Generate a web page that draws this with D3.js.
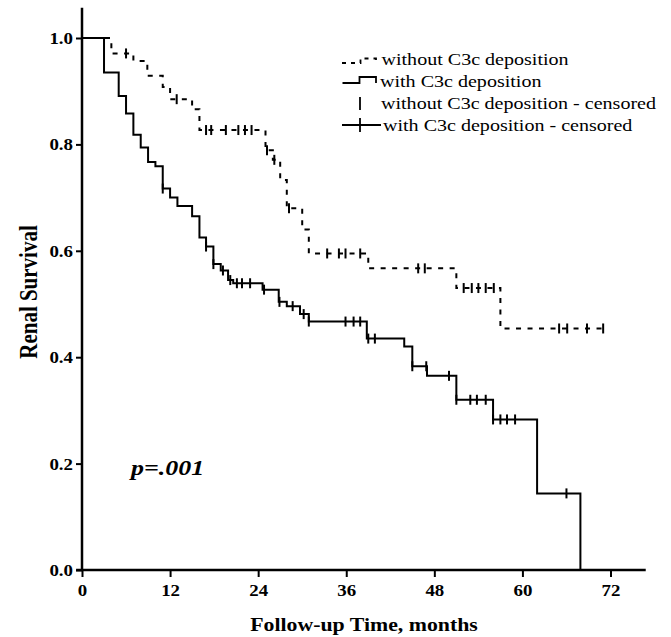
<!DOCTYPE html>
<html><head><meta charset="utf-8">
<script src="https://cdn.jsdelivr.net/npm/d3@7"></script>
<style>body{margin:0;background:#fff}svg{display:block}</style>
</head><body>
<svg id="chart" width="671" height="637"></svg>
<script>
// ---- data (months, survival) ----
const withTimes = [3, 5, 6, 7, 8, 9, 10, 11, 12, 13, 15, 16, 16.9, 17.9, 18.9, 19.9, 20.6, 24.6, 26.8, 27.9, 29.7, 30.9, 38.8, 43.9, 45.0, 47.0, 51.0, 56.0, 62.0, 67.9];
const withSurv = [0.935, 0.891, 0.858, 0.818, 0.794, 0.767, 0.759, 0.717, 0.700, 0.684, 0.665, 0.625, 0.608, 0.575, 0.563, 0.545, 0.539, 0.527, 0.504, 0.496, 0.481, 0.467, 0.435, 0.420, 0.383, 0.365, 0.320, 0.283, 0.144, 0];
const withCensored = [11.0, 16.9, 17.9, 19.2, 20.2, 21.1, 21.8, 22.9, 24.8, 26.9, 28.7, 30.2, 30.9, 35.9, 37.0, 37.9, 39.0, 39.9, 45.0, 46.9, 50.0, 51.0, 52.9, 53.8, 55.0, 56.0, 57.0, 57.9, 59.0, 66.0];
const withoutTimes = [4.0, 7.0, 8.9, 11.0, 12.0, 15.0, 16.0, 25.0, 26.0, 27.0, 27.9, 30.0, 30.9, 39.0, 51.0, 57.0];
const withoutSurv = [0.971, 0.957, 0.929, 0.908, 0.885, 0.866, 0.827, 0.789, 0.771, 0.733, 0.680, 0.640, 0.595, 0.567, 0.530, 0.454];
const withoutCensored = [6.0, 12.9, 16.9, 17.6, 19.6, 21.3, 22.2, 23.1, 25.2, 26.2, 28.2, 33.4, 35.0, 35.9, 37.9, 45.8, 46.7, 52.0, 53.1, 54.0, 55.0, 56.1, 65.0, 66.1, 68.8, 71.0];
const withoutEnd = 71.3;
const xTicks = [0, 12, 24, 36, 48, 60, 72];
const yTicks = [0, 0.2, 0.4, 0.6, 0.8, 1.0];
const legendLabels = ["without C3c deposition", "with C3c deposition", "without C3c deposition - censored", "with C3c deposition - censored"];
const pLabel = "p=.001";
const xTitle = "Follow-up Time, months";
const yTitle = "Renal Survival";

// ---- drawing ----
const SX = 1.18; // horizontal text stretch seen in the reference
const FONT = "'Liberation Serif','Times New Roman',serif";
const svg = d3.select("#chart");
const x = d3.scaleLinear().domain([0, 72]).range([82, 610.5]);
const y = d3.scaleLinear().domain([0, 1]).range([570, 38]);

function stepPoints(times, surv, end) {
  const pts = [[0, 1]];
  let s = 1;
  times.forEach((t, i) => { pts.push([t, s]); s = surv[i]; pts.push([t, s]); });
  if (end != null) pts.push([end, s]);
  return pts;
}
function survAt(times, surv, t) {
  let s = 1;
  times.forEach((tt, i) => { if (tt <= t) s = surv[i]; });
  return s;
}
const line = d3.line().x(d => x(d[0])).y(d => y(d[1]));

function addText(px, py, str, size, weight, style, anchor) {
  return svg.append("text")
    .attr("transform", `translate(${px},${py}) scale(${SX},1)`)
    .attr("font-family", FONT).attr("font-size", size)
    .attr("font-weight", weight).attr("font-style", style)
    .attr("text-anchor", anchor).attr("fill", "#000").text(str);
}

// axes
const yAxis = svg.append("g").attr("transform", "translate(82,0)")
  .call(d3.axisLeft(y).tickValues(yTicks).tickFormat(d3.format(".1f")).tickSize(6).tickPadding(3));
const xAxis = svg.append("g").attr("transform", "translate(0,570)")
  .call(d3.axisBottom(x).tickValues(xTicks).tickFormat(d3.format("d")).tickSize(7).tickPadding(4));
[yAxis, xAxis].forEach(g => {
  g.select(".domain").remove();
  g.selectAll(".tick line").attr("stroke", "#000").attr("stroke-width", 2);
  g.selectAll(".tick text").attr("font-family", FONT).attr("font-size", 16).attr("font-weight", "bold").attr("fill", "#000");
});
yAxis.selectAll(".tick text").attr("x", null).attr("dy", "0.34em").attr("transform", `translate(-9,0) scale(${SX},1)`);
xAxis.selectAll(".tick text").attr("y", null).attr("dy", "0.71em").attr("transform", `translate(0,14.5) scale(${SX},1)`);

svg.append("line").attr("x1", x(0)).attr("x2", x(0)).attr("y1", y(1.057)).attr("y2", y(0) + 1)
  .attr("stroke", "#000").attr("stroke-width", 2.5);
svg.append("line").attr("x1", x(-0.8)).attr("x2", x(76.8)).attr("y1", y(0)).attr("y2", y(0))
  .attr("stroke", "#000").attr("stroke-width", 2.5);

// curves
svg.append("path").attr("d", line(stepPoints(withoutTimes, withoutSurv, withoutEnd)))
  .attr("fill", "none").attr("stroke", "#000").attr("stroke-width", 2).attr("stroke-dasharray", "5,6.5");
svg.append("path").attr("d", line(stepPoints(withTimes, withSurv, null)))
  .attr("fill", "none").attr("stroke", "#000").attr("stroke-width", 2);

// censor marks
svg.append("g").selectAll("line").data(withoutCensored).join("line")
  .attr("x1", d => x(d)).attr("x2", d => x(d))
  .attr("y1", d => y(survAt(withoutTimes, withoutSurv, d)) - 5)
  .attr("y2", d => y(survAt(withoutTimes, withoutSurv, d)) + 5)
  .attr("stroke", "#000").attr("stroke-width", 2);
svg.append("g").selectAll("line").data(withCensored).join("line")
  .attr("x1", d => x(d)).attr("x2", d => x(d))
  .attr("y1", d => y(survAt(withTimes, withSurv, d)) - 5)
  .attr("y2", d => y(survAt(withTimes, withSurv, d)) + 5)
  .attr("stroke", "#000").attr("stroke-width", 2);

// legend
const lg = svg.append("g");
lg.append("path").attr("d", "M342,63 H360.5 V58.5 H376 V63").attr("fill", "none")
  .attr("stroke", "#000").attr("stroke-width", 1.8).attr("stroke-dasharray", "4,5");
lg.append("path").attr("d", "M342.5,83 H359.5 V77 H376 V83").attr("fill", "none")
  .attr("stroke", "#000").attr("stroke-width", 1.8);
lg.append("line").attr("x1", 360).attr("x2", 360).attr("y1", 97).attr("y2", 110)
  .attr("stroke", "#000").attr("stroke-width", 1.8);
lg.append("line").attr("x1", 342).attr("x2", 381).attr("y1", 125).attr("y2", 125)
  .attr("stroke", "#000").attr("stroke-width", 1.8);
lg.append("line").attr("x1", 360).attr("x2", 360).attr("y1", 118).attr("y2", 132)
  .attr("stroke", "#000").attr("stroke-width", 1.8);
const legX = [381.5, 380, 381, 383];
const legY = [65, 87, 109, 131];
legendLabels.forEach((t, i) => addText(legX[i], legY[i], t, 17, "normal", "normal", "start"));

// annotations and titles
addText(131, 475, pLabel, 22, "bold", "italic", "start");
addText(364, 631, xTitle, 18.5, "bold", "normal", "middle");
svg.append("text")
  .attr("transform", `translate(37,292) rotate(-90) scale(1,${SX})`)
  .attr("font-family", FONT).attr("font-size", 21).attr("font-weight", "bold")
  .attr("text-anchor", "middle").attr("fill", "#000").text(yTitle);
</script>
</body></html>
